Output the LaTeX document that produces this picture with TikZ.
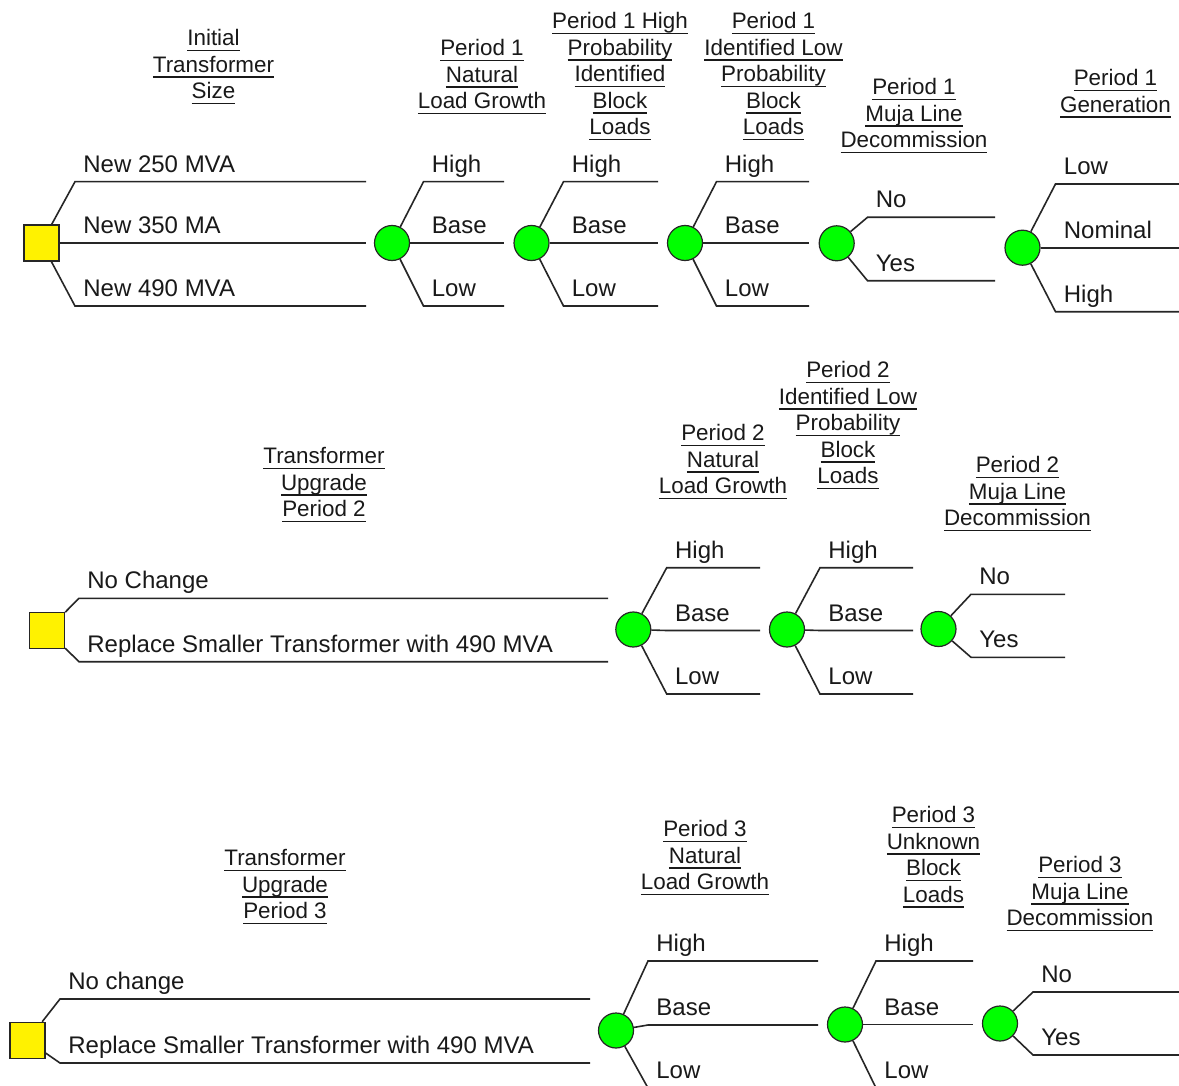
\documentclass[tikz,border=0pt]{standalone}
\usepackage{fontspec}
\setmainfont{Liberation Sans}
\usetikzlibrary{calc}
\newcommand\hu[1]{\setbox0\hbox{#1\vphantom{dl}}\rlap{\rule[-2.7pt]{\wd0}{0.75pt}}\box0}
\newcommand\brn[6]{%
  \coordinate (#2) at (#3,#4);
  \coordinate (#2e) at (#5,#4);
  \draw[ln] (#1) -- (#2) -- (#2e);
  \node[lbl] (#2t) at (#3+8,#4-9.5) {#6};
}
\tikzset{
  ln/.style={draw=black!85, line width=0.8pt},
  dec/.style={rectangle, draw=black!85, line width=0.7pt, fill=yellow, minimum width=17.5pt, minimum height=18pt, inner sep=0pt},
  chn/.style={circle, draw=black!85, line width=0.6pt, fill=green, minimum size=17.5pt, inner sep=0pt},
  lbl/.style={anchor=base west, inner sep=0pt, font=\fontsize{12}{14}\selectfont, text=black!90},
  hdr/.style={anchor=north, align=center, inner sep=0pt, font=\fontsize{11.2}{13.25}\selectfont, text=black!90},
}
\begin{document}
\begin{tikzpicture}[x=0.5pt,y=-0.5pt]
\useasboundingbox (0,0) rectangle (1179,1086);
\clip (0,0) rectangle (1179,1086);
\fill[white] (0,0) rectangle (1179,1086);

% ---------- headers ----------
\node[hdr] (h1) at (213.5,29) {\hu{Initial}\\\hu{Transformer}\\\hu{Size}};
\node[hdr] (h2) at (482,39) {\hu{Period 1}\\\hu{Natural}\\\hu{Load Growth}};
\node[hdr] (h3) at (620,12) {\hu{Period 1 High}\\\hu{Probability}\\\hu{Identified}\\\hu{Block}\\\hu{Loads}};
\node[hdr] (h4) at (773.5,12) {\hu{Period 1}\\\hu{Identified Low}\\\hu{Probability}\\\hu{Block}\\\hu{Loads}};
\node[hdr] (h5) at (914,78) {\hu{Period 1}\\\hu{Muja Line}\\\hu{Decommission}};
\node[hdr] (h6) at (1115.5,69) {\hu{Period 1}\\\hu{Generation}};
\node[hdr] (h7) at (324,447) {\hu{Transformer}\\\hu{Upgrade}\\\hu{Period 2}};
\node[hdr] (h8) at (723,424) {\hu{Period 2}\\\hu{Natural}\\\hu{Load Growth}};
\node[hdr] (h9) at (848,361) {\hu{Period 2}\\\hu{Identified Low}\\\hu{Probability}\\\hu{Block}\\\hu{Loads}};
\node[hdr] (h10) at (1017.5,456) {\hu{Period 2}\\\hu{Muja Line}\\\hu{Decommission}};
\node[hdr] (h11) at (285,849) {\hu{Transformer}\\\hu{Upgrade}\\\hu{Period 3}};
\node[hdr] (h12) at (705,820) {\hu{Period 3}\\\hu{Natural}\\\hu{Load Growth}};
\node[hdr] (h13) at (933.5,806) {\hu{Period 3}\\\hu{Unknown}\\\hu{Block}\\\hu{Loads}};
\node[hdr] (h14) at (1080,856) {\hu{Period 3}\\\hu{Muja Line}\\\hu{Decommission}};

% ---------- row 1 ----------
\node[dec] (s1) at (41.5,243) {};
\brn{s1}{s1a}{75}{181.7}{366}{New 250 MVA}
\brn{s1}{s1b}{75}{243}{366}{New 350 MA}
\brn{s1}{s1c}{75}{306}{366}{New 490 MVA}

\node[chn] (n11) at (392,243) {};
\brn{n11}{n11a}{423.5}{181.7}{504}{High}
\brn{n11}{n11b}{423.5}{243}{504}{Base}
\brn{n11}{n11c}{423.5}{306}{504}{Low}

\node[chn] (n12) at (531.5,243) {};
\brn{n12}{n12a}{563.5}{181.7}{658}{High}
\brn{n12}{n12b}{563.5}{243}{658}{Base}
\brn{n12}{n12c}{563.5}{306}{658}{Low}

\node[chn] (n13) at (685,243) {};
\brn{n13}{n13a}{716.5}{181.7}{809}{High}
\brn{n13}{n13b}{716.5}{243}{809}{Base}
\brn{n13}{n13c}{716.5}{306}{809}{Low}

\node[chn] (n14) at (836.7,243.3) {};
\brn{n14}{n14a}{867.5}{217.3}{995}{No}
\brn{n14}{n14c}{867.5}{280.7}{995}{Yes}

\node[chn] (n15) at (1022.5,247.7) {};
\brn{n15}{n15a}{1055.5}{184}{1179}{Low}
\brn{n15}{n15b}{1055.5}{247.7}{1179}{Nominal}
\brn{n15}{n15c}{1055.5}{311.7}{1179}{High}

% ---------- row 2 ----------
\node[dec] (s2) at (47,630.5) {};
\brn{s2}{s2a}{79}{598.3}{608}{No Change}
\brn{s2}{s2c}{79}{661.7}{608}{Replace Smaller Transformer with 490 MVA}

\node[chn] (n21) at (633.3,629.5) {};
\brn{n21}{n21a}{666.7}{567.7}{760}{High}
\brn{n21}{n21b}{666.7}{630.5}{760}{Base}
\brn{n21}{n21c}{666.7}{694}{760}{Low}

\node[chn] (n22) at (787,629.5) {};
\brn{n22}{n22a}{820}{567.7}{913}{High}
\brn{n22}{n22b}{820}{630.5}{913}{Base}
\brn{n22}{n22c}{820}{694}{913}{Low}

\node[chn] (n23) at (938.5,629) {};
\brn{n23}{n23a}{971}{594.3}{1065}{No}
\brn{n23}{n23c}{971}{657.3}{1065}{Yes}

% ---------- row 3 ----------
\node[dec] (s3) at (27.5,1040.5) {};
\brn{s3}{s3a}{60}{999}{590}{No change}
\brn{s3}{s3c}{60}{1063}{590}{Replace Smaller Transformer with 490 MVA}

\node[chn] (n31) at (616,1030.5) {};
\brn{n31}{n31a}{648}{961}{818}{High}
\brn{n31}{n31b}{648}{1025}{818}{Base}
\brn{n31}{n31c}{648}{1088}{818}{Low}

\node[chn] (n32) at (845,1024.5) {};
\brn{n32}{n32a}{876}{961}{973}{High}
\brn{n32}{n32b}{876}{1024.5}{973}{Base}
\brn{n32}{n32c}{876}{1088}{973}{Low}

\node[chn] (n33) at (1000,1023.5) {};
\brn{n33}{n33a}{1033}{992}{1179}{No}
\brn{n33}{n33c}{1033}{1055}{1179}{Yes}
\end{tikzpicture}
\end{document}
